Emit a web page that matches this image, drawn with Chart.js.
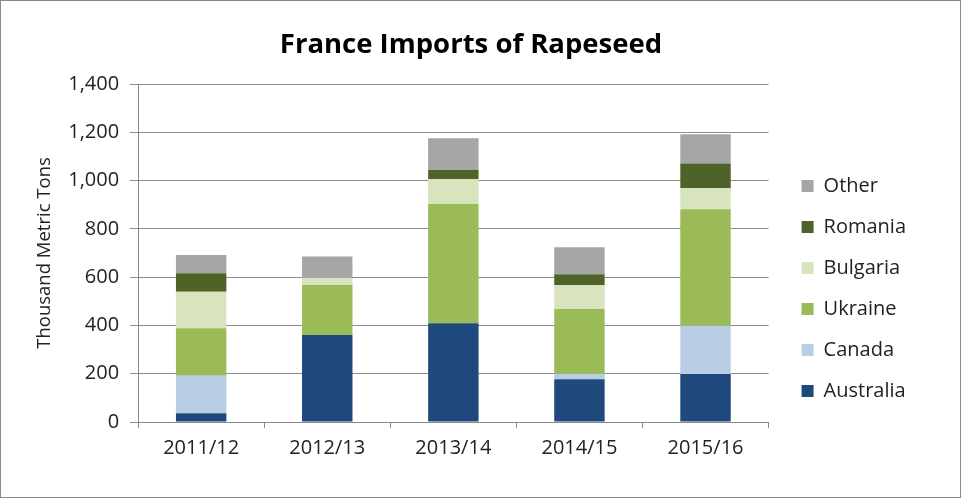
<!DOCTYPE html>
<html>
<head>
<meta charset="utf-8">
<script src="https://cdn.jsdelivr.net/npm/chart.js@4/dist/chart.umd.min.js"></script>
<style>
html,body{margin:0;padding:0;background:#fff;}
#wrap{position:relative;width:959px;height:496px;border:1px solid #8a8a8a;}
</style>
</head>
<body>
<div id="wrap"><canvas id="c"></canvas></div>
<script>
const categories = ['2011/12','2012/13','2013/14','2014/15','2015/16'];
const australia = [36, 360, 409, 177, 199];
const canada    = [156, 0, 0, 22, 200];
const ukraine   = [196, 207, 494, 269, 482];
const bulgaria  = [152, 28, 102, 99, 87];
const romania   = [76, 0, 39, 45, 103];
const other     = [76, 90, 131, 112, 121];
const yTicks = [0,200,400,600,800,1000,1200,1400];

const FONT = "'Open Sans', 'Liberation Sans', sans-serif";
const mk = (label, data, color) => ({label, data, backgroundColor: color, borderWidth: 0, barPercentage: 0.4, categoryPercentage: 1});

const titleShift = {
  id: 'titleShift',
  afterLayout(chart) {
    const t = chart.titleBlock;
    if (t) { t.left = 0; t.right = 940; t.width = 940; }
  }
};

new Chart(document.getElementById('c'), {
  type: 'bar',
  data: {
    labels: categories,
    datasets: [
      mk('Australia', australia, '#1f497d'),
      mk('Canada', canada, '#b9cde5'),
      mk('Ukraine', ukraine, '#9bbb59'),
      mk('Bulgaria', bulgaria, '#d7e4bd'),
      mk('Romania', romania, '#4f6228'),
      mk('Other', other, '#a6a6a6')
    ]
  },
  plugins: [titleShift],
  options: {
    responsive: true,
    maintainAspectRatio: false,
    animation: false,
    layout: {padding: {left: 0, right: 44, top: 0, bottom: 29}},
    plugins: {
      title: {display: true, text: 'France Imports of Rapeseed', color: '#000',
        font: {family: FONT, size: 27.5, weight: 'bold'}, padding: {top: 28, bottom: 22}},
      legend: {position: 'right', reverse: true,
        title: {display: true, text: ' ', font: {size: 10}, padding: {top: 96, bottom: 0}},
        labels: {boxWidth: 12, boxHeight: 12, padding: 21, color: '#222', font: {family: FONT, size: 20}}},
      tooltip: {enabled: false}
    },
    scales: {
      x: {stacked: true,
        grid: {display: true, drawOnChartArea: false, offset: true, color: '#888', tickLength: 6},
        border: {color: '#888'},
        ticks: {color: '#222', font: {family: FONT, size: 20}, padding: 8}},
      y: {stacked: true, min: 0, max: 1400,
        afterBuildTicks: ax => { ax.ticks = yTicks.map(v => ({value: v})); },
        grid: {color: '#8c8c8c', tickLength: 8},
        border: {color: '#888'},
        ticks: {color: '#222', font: {family: FONT, size: 20}, padding: 11},
        title: {display: true, text: 'Thousand Metric Tons', color: '#222', font: {family: FONT, size: 18.5}, padding: {top: 33, bottom: 1}}},
      spacer: {position: 'right', display: true, min: 0, max: 1,
        grid: {display: false}, border: {display: false}, ticks: {display: false},
        afterFit: s => { s.width = 12; }}
    }
  }
});
</script>
</body>
</html>
